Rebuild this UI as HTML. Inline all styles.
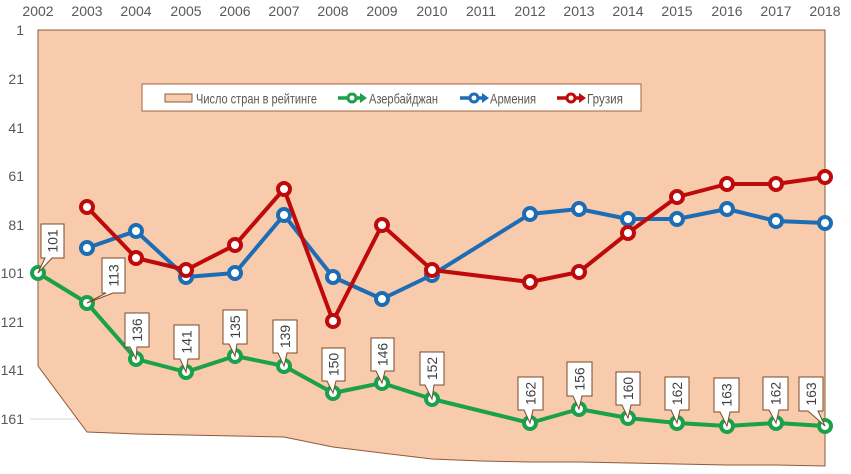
<!DOCTYPE html>
<html><head><meta charset="utf-8">
<style>
html,body{margin:0;padding:0;background:#fff;}
svg{display:block;}
text{font-family:"Liberation Sans",Arial,sans-serif;}
</style></head>
<body>
<svg width="851" height="474" viewBox="0 0 851 474" xmlns="http://www.w3.org/2000/svg">
<rect width="851" height="474" fill="#fff"/>
<line x1="30" y1="419" x2="90" y2="419" stroke="#d9d9d9" stroke-width="1"/>
<polygon points="38,30 825,30 825,466 776,465 727,465 677,464 628,463 579,462 530,462 481,461 432,459 382,453 333,447 284,437 235,436 186,435 136,434 87,432 38,366" fill="#F7CBAB" stroke="#8E5A3A" stroke-width="1"/>
<g font-size="14" fill="#595959" text-anchor="middle">
<text x="38" y="16">2002</text><text x="87" y="16">2003</text><text x="136" y="16">2004</text><text x="186" y="16">2005</text><text x="235" y="16">2006</text><text x="284" y="16">2007</text><text x="333" y="16">2008</text><text x="382" y="16">2009</text><text x="432" y="16">2010</text><text x="481" y="16">2011</text><text x="530" y="16">2012</text><text x="579" y="16">2013</text><text x="628" y="16">2014</text><text x="677" y="16">2015</text><text x="727" y="16">2016</text><text x="776" y="16">2017</text><text x="825" y="16">2018</text>
</g>
<g font-size="14" fill="#595959" text-anchor="end">
<text x="24" y="35">1</text><text x="24" y="84">21</text><text x="24" y="133">41</text><text x="24" y="181">61</text><text x="24" y="230">81</text><text x="24" y="278">101</text><text x="24" y="327">121</text><text x="24" y="375">141</text><text x="24" y="424">161</text>
</g>
<rect x="142" y="84" width="499" height="27" fill="#fff" stroke="#A0653F" stroke-width="1"/>
<rect x="165" y="94" width="27" height="8" fill="#F7CBAB" stroke="#8E5A3A" stroke-width="1"/>
<g font-size="14" fill="#595959">
<text x="196" y="103.5" textLength="121" lengthAdjust="spacingAndGlyphs">Число стран в рейтинге</text>
<text x="369" y="103.5" textLength="69" lengthAdjust="spacingAndGlyphs">Азербайджан</text>
<text x="490" y="103.5" textLength="46" lengthAdjust="spacingAndGlyphs">Армения</text>
<text x="587" y="103.5" textLength="36" lengthAdjust="spacingAndGlyphs">Грузия</text>
</g>
<g stroke-width="3.5">
<line x1="338" y1="98" x2="362" y2="98" stroke="#1BA04B"/><polygon points="360,93 367,98 360,103" fill="#1BA04B"/><circle cx="352" cy="98" r="4" fill="#fff" stroke="#1BA04B" stroke-width="3"/>
<line x1="460" y1="98" x2="484" y2="98" stroke="#1C6DB5"/><polygon points="482,93 489,98 482,103" fill="#1C6DB5"/><circle cx="474" cy="98" r="4" fill="#fff" stroke="#1C6DB5" stroke-width="3"/>
<line x1="557" y1="98" x2="581" y2="98" stroke="#BE0A0A"/><polygon points="579,93 586,98 579,103" fill="#BE0A0A"/><circle cx="571" cy="98" r="4" fill="#fff" stroke="#BE0A0A" stroke-width="3"/>
</g>
<polyline fill="none" stroke="#1BA04B" stroke-width="4" stroke-linejoin="round" points="38,273 87,303 136,359 186,372 235,356 284,366 333,393 382,383 432,399 530,423 579,409 628,418 677,423 727,426 776,423 825,426"/>
<g fill="#fff" stroke="#1BA04B" stroke-width="4">
<circle cx="38" cy="273" r="6"/><circle cx="87" cy="303" r="6"/><circle cx="136" cy="359" r="6"/><circle cx="186" cy="372" r="6"/><circle cx="235" cy="356" r="6"/><circle cx="284" cy="366" r="6"/><circle cx="333" cy="393" r="6"/><circle cx="382" cy="383" r="6"/><circle cx="432" cy="399" r="6"/><circle cx="530" cy="423" r="6"/><circle cx="579" cy="409" r="6"/><circle cx="628" cy="418" r="6"/><circle cx="677" cy="423" r="6"/><circle cx="727" cy="426" r="6"/><circle cx="776" cy="423" r="6"/><circle cx="825" cy="426" r="6"/>
</g>
<polyline fill="none" stroke="#1C6DB5" stroke-width="4" stroke-linejoin="round" points="87,248 136,231 186,277 235,273 284,215 333,277 382,299 432,275 530,214 579,209 628,219 677,219 727,209 776,221 825,223"/>
<g fill="#fff" stroke="#1C6DB5" stroke-width="4">
<circle cx="87" cy="248" r="6"/><circle cx="136" cy="231" r="6"/><circle cx="186" cy="277" r="6"/><circle cx="235" cy="273" r="6"/><circle cx="284" cy="215" r="6"/><circle cx="333" cy="277" r="6"/><circle cx="382" cy="299" r="6"/><circle cx="432" cy="275" r="6"/><circle cx="530" cy="214" r="6"/><circle cx="579" cy="209" r="6"/><circle cx="628" cy="219" r="6"/><circle cx="677" cy="219" r="6"/><circle cx="727" cy="209" r="6"/><circle cx="776" cy="221" r="6"/><circle cx="825" cy="223" r="6"/>
</g>
<polyline fill="none" stroke="#BE0A0A" stroke-width="4" stroke-linejoin="round" points="87,207 136,258 186,270 235,245 284,189 333,321 382,225 432,270 530,282 579,272 628,233 677,197 727,184 776,184 825,177"/>
<g fill="#fff" stroke="#BE0A0A" stroke-width="4">
<circle cx="87" cy="207" r="6"/><circle cx="136" cy="258" r="6"/><circle cx="186" cy="270" r="6"/><circle cx="235" cy="245" r="6"/><circle cx="284" cy="189" r="6"/><circle cx="333" cy="321" r="6"/><circle cx="382" cy="225" r="6"/><circle cx="432" cy="270" r="6"/><circle cx="530" cy="282" r="6"/><circle cx="579" cy="272" r="6"/><circle cx="628" cy="233" r="6"/><circle cx="677" cy="197" r="6"/><circle cx="727" cy="184" r="6"/><circle cx="776" cy="184" r="6"/><circle cx="825" cy="177" r="6"/>
</g>
<g fill="#fff" stroke="#7A4A2A" stroke-width="1">
<path d="M41,224 H64 V258 H52 L38,273 L45,258 H41 Z"/>
<path d="M102,258 H125 V293 H113 L87,303 L106,293 H102 Z"/>
<path d="M125,313 H149 V347 H137 L136,359 L130,347 H125 Z"/>
<path d="M174,325 H199 V359 H188 L186,372 L180,359 H174 Z"/>
<path d="M223,310 H247 V344 H237 L235,356 L229,344 H223 Z"/>
<path d="M273,320 H297 V353 H287 L284,366 L278,353 H273 Z"/>
<path d="M322,348 H345 V381 H336 L333,393 L327,381 H322 Z"/>
<path d="M371,338 H394 V371 H385 L382,383 L376,371 H371 Z"/>
<path d="M420,352 H444 V385 H434 L432,399 L425,385 H420 Z"/>
<path d="M518,377 H543 V410 H533 L530,423 L524,410 H518 Z"/>
<path d="M567,362 H592 V396 H582 L579,409 L573,396 H567 Z"/>
<path d="M616,372 H640 V405 H631 L628,418 L622,405 H616 Z"/>
<path d="M665,377 H689 V410 H680 L677,423 L671,410 H665 Z"/>
<path d="M714,378 H739 V412 H730 L727,426 L720,412 H714 Z"/>
<path d="M763,377 H788 V410 H779 L776,423 L769,410 H763 Z"/>
<path d="M799,377 H823 V411 H818 L825,426 L808,411 H799 Z"/>
</g>
<g font-size="14" fill="#404040" text-anchor="middle">
<text transform="translate(57.5,241) rotate(-90)">101</text>
<text transform="translate(118.5,275.5) rotate(-90)">113</text>
<text transform="translate(142,330) rotate(-90)">136</text>
<text transform="translate(191.5,342) rotate(-90)">141</text>
<text transform="translate(240,327) rotate(-90)">135</text>
<text transform="translate(290,336.5) rotate(-90)">139</text>
<text transform="translate(338.5,364.5) rotate(-90)">150</text>
<text transform="translate(387.5,354.5) rotate(-90)">146</text>
<text transform="translate(437,368.5) rotate(-90)">152</text>
<text transform="translate(535.5,393.5) rotate(-90)">162</text>
<text transform="translate(584.5,379) rotate(-90)">156</text>
<text transform="translate(633,388.5) rotate(-90)">160</text>
<text transform="translate(682,393.5) rotate(-90)">162</text>
<text transform="translate(731.5,395) rotate(-90)">163</text>
<text transform="translate(780.5,393.5) rotate(-90)">162</text>
<text transform="translate(816,394) rotate(-90)">163</text>
</g>
</svg>
</body></html>
